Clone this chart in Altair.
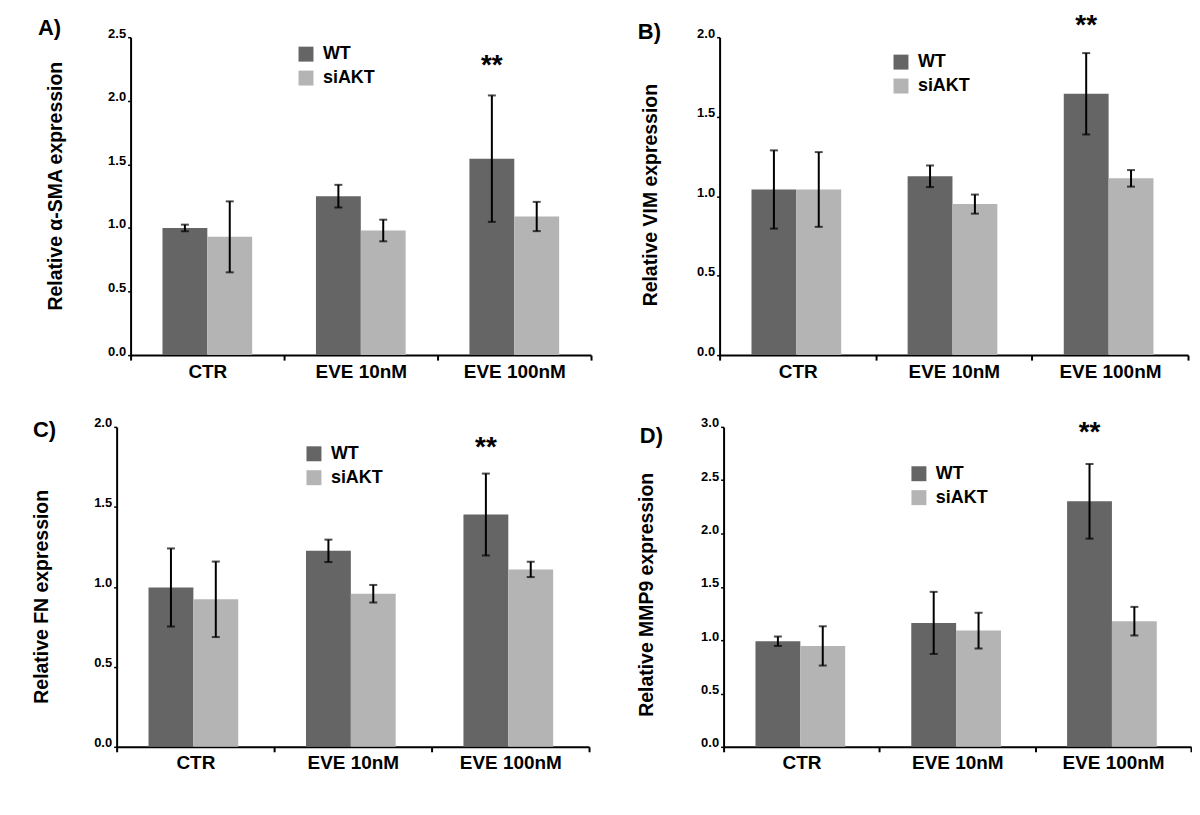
import altair as alt
import pandas as pd

categories = ["CTR", "EVE 10nM", "EVE 100nM"]
groups = ["WT", "siAKT"]
colors = ["#656565", "#b4b4b4"]

# Panel A: alpha-SMA
sma_wt = [1.00, 1.25, 1.545]
sma_wt_err = [0.026, 0.089, 0.497]
sma_si = [0.93, 0.98, 1.09]
sma_si_err = [0.279, 0.085, 0.115]

# Panel B: VIM
vim_wt = [1.042, 1.125, 1.644]
vim_wt_err = [0.246, 0.068, 0.256]
vim_si = [1.042, 0.95, 1.112]
vim_si_err = [0.235, 0.06, 0.052]

# Panel C: FN
fn_wt = [0.996, 1.225, 1.452]
fn_wt_err = [0.244, 0.07, 0.256]
fn_si = [0.922, 0.957, 1.109]
fn_si_err = [0.236, 0.055, 0.048]

# Panel D: MMP9
mmp_wt = [0.99, 1.162, 2.302]
mmp_wt_err = [0.044, 0.291, 0.35]
mmp_si = [0.946, 1.09, 1.178]
mmp_si_err = [0.184, 0.168, 0.134]

y_ticks_25 = [0.0, 0.5, 1.0, 1.5, 2.0, 2.5]
y_ticks_20 = [0.0, 0.5, 1.0, 1.5, 2.0]
y_ticks_30 = [0.0, 0.5, 1.0, 1.5, 2.0, 2.5, 3.0]

star_text = "**"
star_cat = "EVE 100nM"
star_grp = "WT"

FONT = "Liberation Sans"


def make_df(wt, wt_err, si, si_err):
    rows = []
    for i, c in enumerate(categories):
        rows.append({"cat": c, "grp": "WT", "mean": wt[i], "lo": wt[i] - wt_err[i], "hi": wt[i] + wt_err[i]})
        rows.append({"cat": c, "grp": "siAKT", "mean": si[i], "lo": si[i] - si_err[i], "hi": si[i] + si_err[i]})
    return pd.DataFrame(rows)


def panel(df, ticks, ytitle, label, star_y, w, h, lx, ly, tpad, ty, lab_dx, lab_dy):
    ymax = ticks[-1]
    xaxis = alt.Axis(title=None, labelFont=FONT, labelFontSize=19, labelFontWeight="bold",
                     labelColor="black", labelAngle=0, labelPadding=2,
                     tickBand="extent", tickSize=5, tickWidth=2, tickColor="black",
                     domainColor="black", domainWidth=2)
    xenc = alt.X("cat:N", sort=categories,
                 scale=alt.Scale(domain=categories, paddingInner=0, paddingOuter=0),
                 axis=xaxis)
    xo = alt.XOffset("grp:N", sort=groups,
                     scale=alt.Scale(domain=groups, paddingOuter=0.711, paddingInner=0))
    yscale = alt.Scale(domain=[0, ymax], nice=False, zero=True)
    yaxis = alt.Axis(title=ytitle, values=ticks, format=".1f", grid=False,
                     labelFont=FONT, labelFontSize=13, labelFontWeight="bold", labelColor="black",
                     labelBaseline="alphabetic", labelPadding=2,
                     tickSize=3, tickWidth=1.5, tickColor="black",
                     domainColor="black", domainWidth=2,
                     titleFont=FONT, titleFontSize=19.5, titleFontWeight="bold", titleColor="black",
                     titlePadding=tpad, titleY=ty)
    base = alt.Chart(df)
    bars = base.mark_bar().encode(
        x=xenc, xOffset=xo,
        y=alt.Y("mean:Q", scale=yscale, axis=yaxis),
        color=alt.Color("grp:N", sort=groups,
                        scale=alt.Scale(domain=groups, range=colors),
                        legend=alt.Legend(title=None, orient="none", legendX=lx, legendY=ly,
                                          symbolType="square", symbolSize=225, symbolStrokeWidth=0,
                                          labelFont=FONT, labelFontSize=18, labelFontWeight="bold",
                                          labelColor="black", labelOffset=8, rowPadding=6,
                                          padding=0)),
    )
    rules = base.mark_rule(color="black", strokeWidth=2).encode(
        x=xenc, xOffset=xo,
        y=alt.Y("lo:Q", scale=yscale, axis=yaxis), y2="hi:Q",
    )
    cap_lo = base.mark_tick(color="black", thickness=2, size=8).encode(
        x=xenc, xOffset=xo,
        y=alt.Y("lo:Q", scale=yscale, axis=yaxis),
    )
    cap_hi = base.mark_tick(color="black", thickness=2, size=8).encode(
        x=xenc, xOffset=xo,
        y=alt.Y("hi:Q", scale=yscale, axis=yaxis),
    )
    sdf = pd.DataFrame({"cat": [star_cat], "grp": [star_grp], "sy": [star_y], "t": [star_text]})
    stars = alt.Chart(sdf).mark_text(font=FONT, fontSize=28, fontWeight="bold", color="black",
                                     baseline="middle", dy=2).encode(
        x=xenc, xOffset=xo,
        y=alt.Y("sy:Q", scale=yscale, axis=yaxis), text="t:N",
    )
    ldf = pd.DataFrame({"t": [label]})
    lab = alt.Chart(ldf).mark_text(font=FONT, fontSize=22, fontWeight="bold", color="black",
                                   align="left", baseline="top").encode(
        x=alt.value(lab_dx), y=alt.value(lab_dy), text="t:N",
    )
    return alt.layer(bars, rules, cap_lo, cap_hi, stars, lab).properties(width=w, height=h)


def spacer(w, h):
    return alt.Chart(pd.DataFrame({"v": [0]})).mark_point(opacity=0).properties(width=w, height=h)


pA = panel(make_df(sma_wt, sma_wt_err, sma_si, sma_si_err), y_ticks_25,
           "Relative \u03b1-SMA expression", "A)", 2.29, 462, 319, 167, 8, 42, 149, -93, -19)
pB = panel(make_df(vim_wt, vim_wt_err, vim_si, vim_si_err), y_ticks_20,
           "Relative VIM expression", "B)", 2.08, 470, 319, 173, 16, 36, 158, -82, -15)
pC = panel(make_df(fn_wt, fn_wt_err, fn_si, fn_si_err), y_ticks_20,
           "Relative FN expression", "C)", 1.88, 474, 321, 189, 18, 42, 170, -84, -7)
pD = panel(make_df(mmp_wt, mmp_wt_err, mmp_si, mmp_si_err), y_ticks_30,
           "Relative MMP9 expression", "D)", 2.96, 469, 321, 187, 38, 44, 168, -84, -1)

row1 = alt.hconcat(spacer(123, 319), pA, spacer(129, 319), pB, spacing=0,
                   bounds="flush").resolve_scale(color="independent")
row2 = alt.hconcat(spacer(109, 321), pC, spacer(135, 321), pD, spacing=0,
                   bounds="flush").resolve_scale(color="independent")

chart = alt.vconcat(row1, row2, spacing=36).resolve_scale(color="independent").properties(
    padding={"top": 3, "left": 0, "right": 0, "bottom": 0},
    background="white",
).configure_view(strokeWidth=0)

chart.save("out.html", embed_options={"renderer": "svg", "actions": False})
